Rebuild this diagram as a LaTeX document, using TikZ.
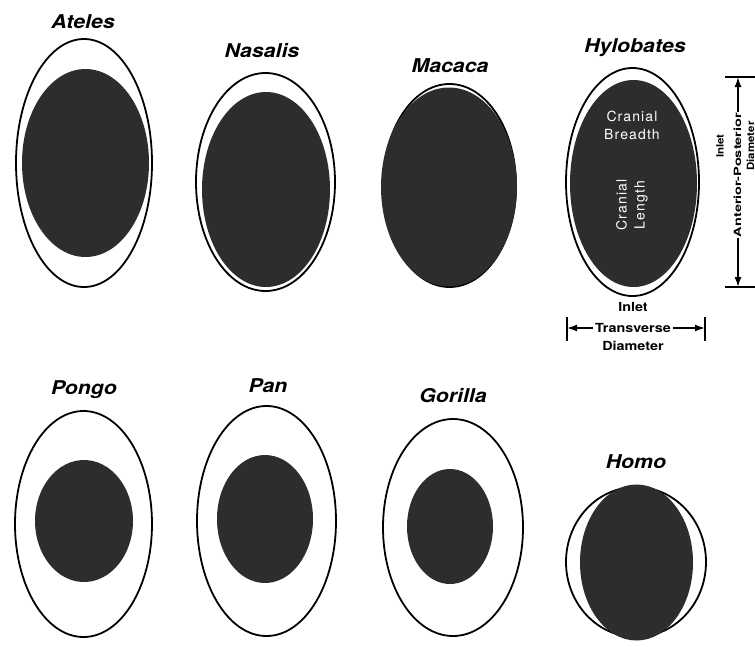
\documentclass[tikz,border=0pt]{standalone}
\usepackage{fontspec}
\usetikzlibrary{shapes.geometric,arrows.meta}
\newfontfamily\labfont[FakeStretch=1.12]{TeX Gyre Heros}
\newfontfamily\inkfont[LetterSpace=8]{TeX Gyre Heros}
\newfontfamily\dimfont[FakeStretch=1.15]{TeX Gyre Heros}
\newfontfamily\widefont[FakeStretch=1.45]{TeX Gyre Heros}
\definecolor{skull}{RGB}{45,45,45}
\tikzset{
  outer/.style={ellipse, draw=black, line width=1.8pt, fill=white, inner sep=0pt},
  inner/.style={ellipse, fill=skull, inner sep=0pt},
  genus/.style={font=\labfont\bfseries\itshape\fontsize{19}{22}\selectfont, inner sep=0pt},
  intext/.style={font=\inkfont\fontsize{14}{16}\selectfont, text=white, inner sep=0pt, align=center},
  dimtext/.style={font=\dimfont\bfseries\fontsize{12.5}{14}\selectfont, inner sep=1pt},
  vdimtext/.style={font=\dimfont\bfseries\fontsize{10}{12}\selectfont, inner sep=0.5pt},
  widetext/.style={font=\widefont\bfseries\fontsize{10}{12}\selectfont, inner sep=1pt},
  dimline/.style={line width=1.5pt},
  dimarrow/.style={line width=1.5pt, {Latex[length=10pt,width=7pt]}-{Latex[length=10pt,width=7pt]}}
}
\begin{document}
\begin{tikzpicture}[x=1pt,y=-1pt]
\useasboundingbox[fill=white] (0,0) rectangle (755,646);

% Ateles
\node[outer, minimum width=136pt, minimum height=248pt] (ateO) at (84,163) {};
\node[inner, minimum width=127pt, minimum height=188pt] (ateI) at (85.5,163) {};
\node[genus] (ateL) at (83,22) {Ateles};

% Nasalis
\node[outer, minimum width=139pt, minimum height=218pt] (nasO) at (265.5,182) {};
\node[inner, minimum width=128pt, minimum height=195pt] (nasI) at (266,189.5) {};
\node[genus] (nasL) at (262,51) {Nasalis};

% Macaca
\node[outer, minimum width=133pt, minimum height=203pt] (macO) at (449.5,185.5) {};
\node[inner, minimum width=136pt, minimum height=199pt] (macI) at (449,187) {};
\node[genus] (macL) at (450,66) {Macaca};

% Hylobates
\node[outer, minimum width=133pt, minimum height=228pt] (hylO) at (632.5,182) {};
\node[inner, minimum width=127pt, minimum height=207pt] (hylI) at (633.5,183.5) {};
\node[genus] (hylL) at (635,48) {Hylobates};
\node[intext] (cb) at (632,125) {Cranial\\[2pt]Breadth};
\node[intext, rotate=90] (cl) at (632,205) {Cranial\\[2pt]Length};

% Anterior-posterior dimension
\coordinate (apT) at (738,77);
\coordinate (apB) at (738,287);
\coordinate (apTL) at (725,77);
\coordinate (apTR) at (755,77);
\coordinate (apBL) at (725,287);
\coordinate (apBR) at (755,287);
\draw[dimline] (apTL) -- (apTR);
\draw[dimline] (apBL) -- (apBR);
\draw[dimarrow] (apT) -- (apB);
\node[widetext, fill=white, rotate=90] (apx) at (737.5,175) {Anterior-Posterior};
\node[vdimtext, rotate=90] (apin) at (720,146) {Inlet};
\node[vdimtext, rotate=90] (apdi) at (750.5,146) {Diameter};

% Transverse dimension
\coordinate (trL) at (567,328);
\coordinate (trR) at (705,328);
\coordinate (trLT) at (567,317);
\coordinate (trLB) at (567,341);
\coordinate (trRT) at (705,317);
\coordinate (trRB) at (705,341);
\draw[dimline] (trLT) -- (trLB);
\draw[dimline] (trRT) -- (trRB);
\draw[dimarrow] (trL) -- (trR);
\node[dimtext, fill=white, inner sep=2pt] (trx) at (633,328) {Transverse};
\node[dimtext] (trin) at (633,307) {Inlet};
\node[dimtext] (trdi) at (633,346) {Diameter};

% Pongo
\node[outer, minimum width=137pt, minimum height=226pt] (ponO) at (83.5,524) {};
\node[inner, minimum width=98pt, minimum height=122pt] (ponI) at (84,521) {};
\node[genus] (ponL) at (84,390) {Pongo};

% Pan
\node[outer, minimum width=139pt, minimum height=230pt] (panO) at (266.5,521) {};
\node[inner, minimum width=96pt, minimum height=128pt] (panI) at (265,519) {};
\node[genus] (panL) at (268,386) {Pan};

% Gorilla
\node[outer, minimum width=140pt, minimum height=217pt] (gorO) at (453,527.5) {};
\node[inner, minimum width=86pt, minimum height=115pt] (gorI) at (450,526.5) {};
\node[genus] (gorL) at (453,396) {Gorilla};

% Homo
\node[outer, minimum width=140pt, minimum height=150pt] (homO) at (636,562) {};
\node[inner, minimum width=113pt, minimum height=156pt] (homI) at (636.5,562.5) {};
\node[genus] (homL) at (636,462) {Homo};
\end{tikzpicture}
\end{document}
